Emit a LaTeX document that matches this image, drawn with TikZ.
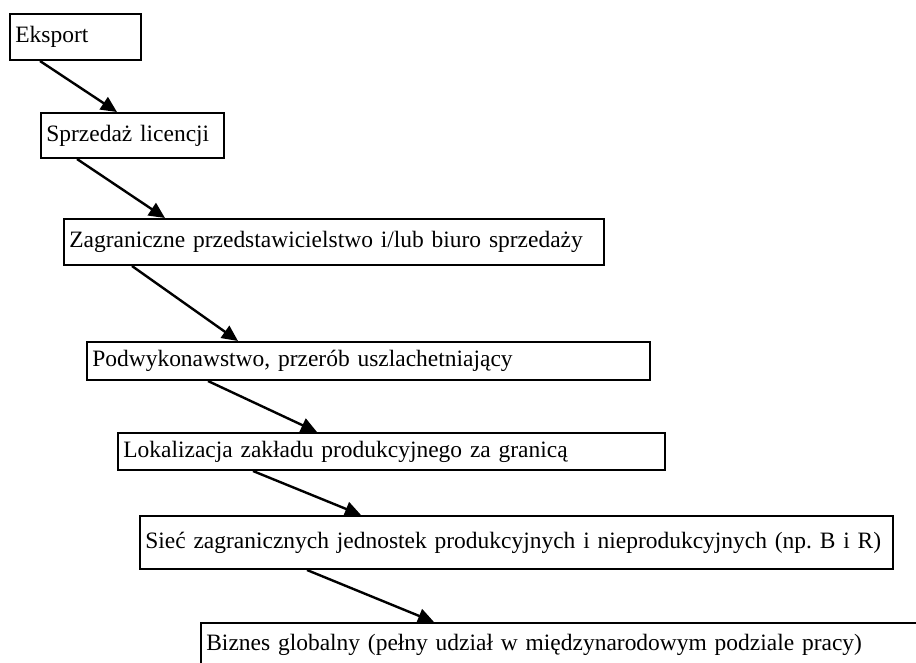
\documentclass[tikz,border=0pt]{standalone}
\usepackage{fontspec}
\setmainfont{Liberation Serif}
\usetikzlibrary{arrows.meta}
\tikzset{
  stagebox/.style={draw=black, line width=1.5pt, rectangle, anchor=north west,
    inner xsep=4pt, inner ysep=0pt, align=left,
    font=\fontsize{17.6}{21}\selectfont\frenchspacing},
  flowarrow/.style={draw=black, line width=1.8pt,
    -{Triangle[length=12pt,width=11pt]}, shorten >=0pt}
}
\begin{document}
\begin{tikzpicture}[x=0.75pt,y=-0.75pt]
\useasboundingbox (0,0) rectangle (916,662);
\clip (0,0) rectangle (916,662);
\node[stagebox, minimum width=98.25pt, minimum height=34.5pt, text width=90.25pt] (e) at (9,13) {\mbox{Eksport}};
\node[stagebox, minimum width=137.25pt, minimum height=33.75pt, text width=129.25pt] (s) at (40,112) {\mbox{Sprzedaż licencji}};
\node[stagebox, minimum width=405pt, minimum height=34.5pt, text width=397pt] (z) at (63,218) {\mbox{Zagraniczne przedstawicielstwo i/lub biuro sprzedaży}};
\node[stagebox, minimum width=422.25pt, minimum height=28.5pt, text width=414.25pt] (p) at (86,341) {\mbox{Podwykonawstwo, przerób uszlachetniający}};
\node[stagebox, minimum width=410.25pt, minimum height=27.75pt, text width=402.25pt] (l) at (117,432) {\mbox{Lokalizacja zakładu produkcyjnego za granicą}};
\node[stagebox, minimum width=564.75pt, minimum height=39.75pt, text width=556.75pt] (n) at (139,515) {\mbox{Sieć zagranicznych jednostek produkcyjnych i nieprodukcyjnych (np. B i R)}};
\node[stagebox, minimum width=555pt, minimum height=33pt, text width=547pt] (b) at (200,622) {\mbox{Biznes globalny (pełny udział w międzynarodowym podziale pracy)}};
\draw[flowarrow] ([xshift=23.25pt]e.south west) -- ([xshift=57.75pt]s.north west);
\draw[flowarrow] ([xshift=27.75pt]s.south west) -- ([xshift=76.5pt]z.north west);
\draw[flowarrow] ([xshift=51.75pt]z.south west) -- ([xshift=114pt]p.north west);
\draw[flowarrow] ([xshift=91.5pt]p.south west) -- ([xshift=150pt]l.north west);
\draw[flowarrow] ([xshift=102pt]l.south west) -- ([xshift=166.5pt]n.north west);
\draw[flowarrow] ([xshift=126pt]n.south west) -- ([xshift=175.5pt]b.north west);
\end{tikzpicture}
\end{document}
